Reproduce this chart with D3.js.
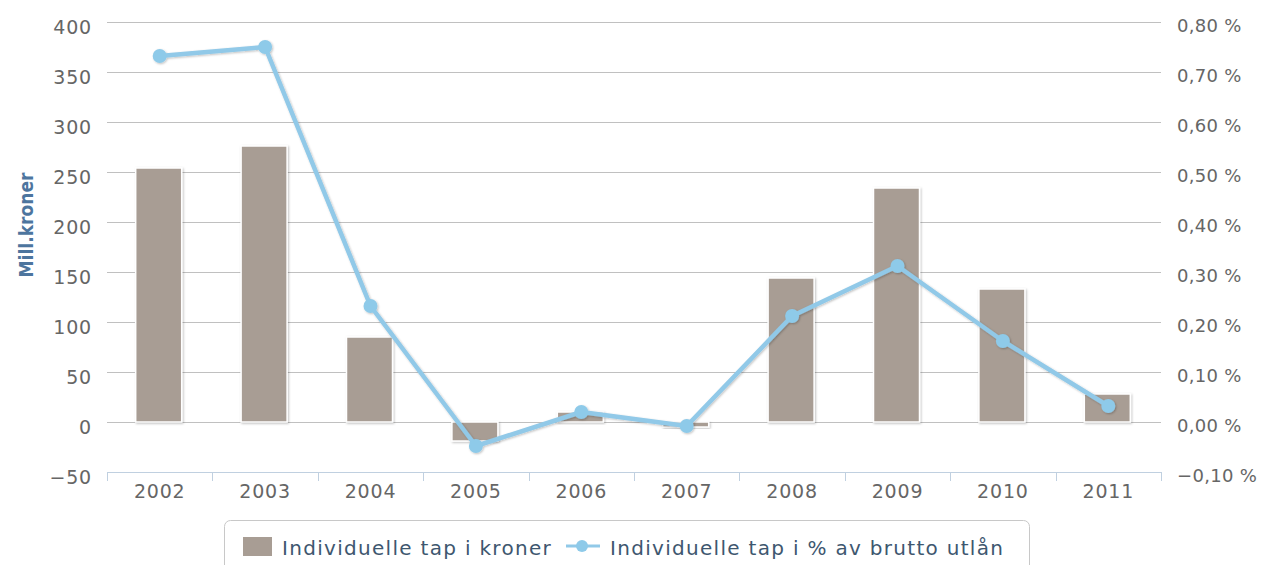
<!DOCTYPE html>
<html>
<head>
<meta charset="utf-8">
<script src="https://cdn.jsdelivr.net/npm/d3@7"></script>
<style>
  body { margin: 0; background: #fff; }
  text { font-family: "DejaVu Sans", sans-serif; }
</style>
</head>
<body>
<div id="chart"></div>
<script>
// data
const years = ["2002", "2003", "2004", "2005", "2006", "2007", "2008", "2009", "2010", "2011"];
const tapKroner = [254, 276, 85, -19, 10, -5, 144, 234, 133, 28];
const tapProsent = [0.732, 0.75, 0.232, -0.048, 0.02, -0.008, 0.212, 0.312, 0.162, 0.032];
const leftTicks = [-50, 0, 50, 100, 150, 200, 250, 300, 350, 400];
const rightTicks = [-0.1, 0, 0.1, 0.2, 0.3, 0.4, 0.5, 0.6, 0.7, 0.8];

const width = 1264, height = 565;
const plotLeft = 107, plotRight = 1161, plotTop = 22, plotBottom = 472;

const svg = d3.select("#chart").append("svg")
    .attr("width", width)
    .attr("height", height);

const defs = svg.append("defs");
const shadow = defs.append("filter").attr("id", "shadow")
    .attr("x", "-20%").attr("y", "-20%").attr("width", "150%").attr("height", "150%");
shadow.append("feDropShadow")
    .attr("dx", 1).attr("dy", 1).attr("stdDeviation", 1.2)
    .attr("flood-color", "#000").attr("flood-opacity", 0.25);

const x = d3.scaleBand().domain(years).range([plotLeft, plotRight]).paddingInner(0).paddingOuter(0);
const yL = d3.scaleLinear().domain([-50, 400]).range([plotBottom, plotTop]);
const yR = d3.scaleLinear().domain([-0.1, 0.8]).range([plotBottom, plotTop]);

// gridlines
svg.append("g")
    .selectAll("line")
    .data(leftTicks.filter(d => d !== -50))
    .join("line")
    .attr("x1", plotLeft).attr("x2", plotRight)
    .attr("y1", d => yL(d) + 0.5).attr("y2", d => yL(d) + 0.5)
    .attr("stroke", "#c0c0c0").attr("stroke-width", 1);

// left axis
const axL = svg.append("g")
    .attr("transform", `translate(${plotLeft},0)`)
    .call(d3.axisLeft(yL).tickValues(leftTicks).tickSize(0).tickPadding(15)
        .tickFormat(d => d < 0 ? "\u2212" + Math.abs(d) : d));
axL.select(".domain").remove();
axL.selectAll("text").attr("fill", "#666").attr("dy", "0.6em")
    .style("font-size", "19px").style("letter-spacing", "0.8px");

// right axis
const fmtPct = d => (d < 0 ? "\u2212" : "") + Math.abs(d).toFixed(2).replace(".", ",") + " %";
const axR = svg.append("g")
    .attr("transform", `translate(${plotRight},0)`)
    .call(d3.axisRight(yR).tickValues(rightTicks).tickSize(0).tickPadding(16).tickFormat(fmtPct));
axR.select(".domain").remove();
axR.selectAll("text").attr("fill", "#666").attr("dy", "0.55em")
    .style("font-size", "18px").style("letter-spacing", "0.3px");

// x axis
const axX = svg.append("g")
    .attr("transform", `translate(0,${plotBottom})`)
    .call(d3.axisBottom(x).tickSize(0).tickPadding(13));
axX.select(".domain").attr("stroke", "#c0d0e0").attr("d", `M${plotLeft},0.5H${plotRight}`);
axX.selectAll("text").attr("fill", "#666")
    .style("font-size", "19px").style("letter-spacing", "0.8px");
axX.append("g").selectAll("line")
    .data(d3.range(years.length + 1))
    .join("line")
    .attr("x1", i => Math.round(plotLeft + x.bandwidth() * i) + 0.5)
    .attr("x2", i => Math.round(plotLeft + x.bandwidth() * i) + 0.5)
    .attr("y1", 0).attr("y2", 9)
    .attr("stroke", "#c0d0e0");

// y title
svg.append("text")
    .attr("transform", `translate(33,225) rotate(-90)`)
    .attr("text-anchor", "middle")
    .attr("fill", "#4d759e")
    .style("font-family", "'DejaVu Sans Condensed', 'DejaVu Sans', sans-serif")
    .style("font-size", "19px")
    .style("font-weight", "bold")
    .text("Mill.kroner");

// bars
const barW = 46;
svg.append("g")
    .selectAll("rect")
    .data(tapKroner)
    .join("rect")
    .attr("x", (d, i) => x(years[i]) + x.bandwidth() / 2 - barW / 2 - 1)
    .attr("y", d => d >= 0 ? yL(d) : yL(0))
    .attr("width", barW)
    .attr("height", d => Math.abs(yL(d) - yL(0)))
    .attr("fill", "#a89d94")
    .attr("stroke", "#fff")
    .attr("stroke-width", 1.5)
    .attr("filter", "url(#shadow)");

// line
const line = d3.line()
    .x((d, i) => x(years[i]) + x.bandwidth() / 2)
    .y(d => yR(d));
const lineG = svg.append("g").attr("filter", "url(#shadow)");
lineG.append("path")
    .datum(tapProsent)
    .attr("d", line)
    .attr("fill", "none")
    .attr("stroke", "#91c9e8")
    .attr("stroke-width", 4.5)
    .attr("stroke-linejoin", "round");
lineG.selectAll("circle")
    .data(tapProsent)
    .join("circle")
    .attr("cx", (d, i) => x(years[i]) + x.bandwidth() / 2)
    .attr("cy", d => yR(d))
    .attr("r", 7)
    .attr("fill", "#8ecae9");

// legend
const lg = svg.append("g");
lg.append("rect")
    .attr("x", 224.5).attr("y", 520.5).attr("width", 805).attr("height", 60)
    .attr("rx", 6)
    .attr("fill", "#fff").attr("stroke", "#c8c8c8");
lg.append("rect")
    .attr("x", 243).attr("y", 537).attr("width", 29).attr("height", 19)
    .attr("fill", "#a89d94");
lg.append("text")
    .attr("x", 282).attr("y", 555)
    .attr("fill", "#3e576f").style("font-size", "20px").style("letter-spacing", "1.3px")
    .text("Individuelle tap i kroner");
lg.append("line")
    .attr("x1", 566).attr("x2", 600).attr("y1", 546).attr("y2", 546)
    .attr("stroke", "#91c9e8").attr("stroke-width", 3);
lg.append("circle")
    .attr("cx", 582).attr("cy", 546).attr("r", 6)
    .attr("fill", "#8ecae9");
lg.append("text")
    .attr("x", 610).attr("y", 555)
    .attr("fill", "#3e576f").style("font-size", "20px").style("letter-spacing", "1.3px")
    .text("Individuelle tap i % av brutto utlån");
</script>
</body>
</html>
